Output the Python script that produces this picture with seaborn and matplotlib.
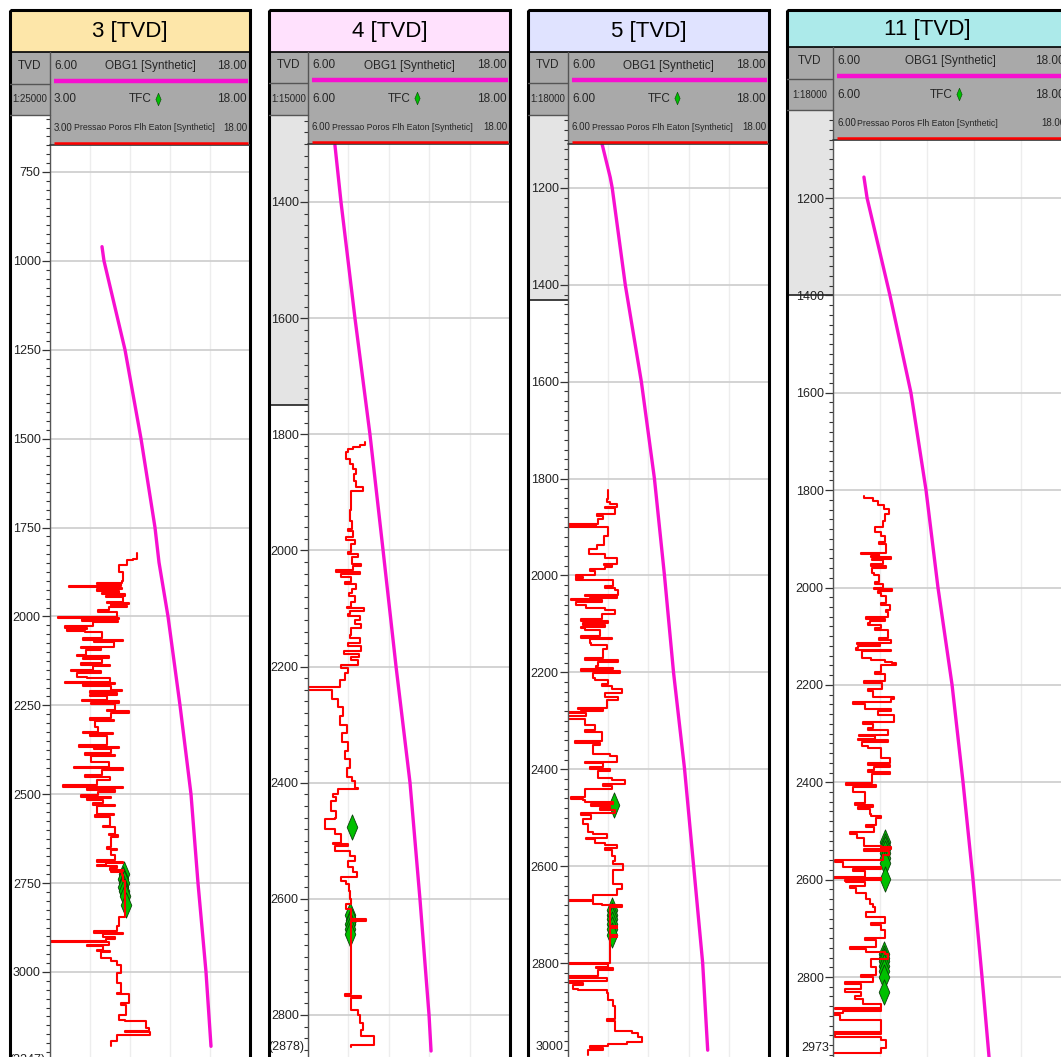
import numpy as np
import seaborn as sns
import matplotlib.pyplot as plt
from matplotlib.patches import Rectangle
from matplotlib.path import Path
from matplotlib.markers import MarkerStyle
from matplotlib.ticker import MultipleLocator

sns.set_theme(style="white")
plt.rcParams['font.family'] = ['Liberation Sans', 'DejaVu Sans']

W, H = 1061, 1057
MAG = '#F70FD0'
GREEN = '#00C000'
GRAY = '#A9A9A9'

# ---- well 3 ----
obg3_depth = [960, 1000, 1250, 1500, 1750, 1848, 2000, 2250, 2500, 2750, 3000, 3209]
obg3 = [9.12, 9.24, 10.5, 11.46, 12.3, 12.54, 13.08, 13.8, 14.46, 14.88, 15.36, 15.66]
tfc3_depth = [2725, 2738, 2750, 2760, 2772, 2785, 2812]
tfc3 = [8.55, 8.5, 8.55, 8.5, 8.55, 8.6, 8.7]
pp3_depth = [1821, 1838, 1840, 1854, 1876, 1901, 1905, 1909, 1913, 1916,
             1920, 1924, 1928, 1934, 1938, 1942, 1946, 1958, 1962, 1966,
             1970, 1974, 1983, 1988, 2002, 2005, 2008, 2012, 2016, 2028,
             2032, 2036, 2040, 2044, 2061, 2065, 2069, 2073, 2085, 2089,
             2093, 2108, 2112, 2116, 2120, 2132, 2136, 2140, 2150, 2154,
             2158, 2169, 2173, 2183, 2187, 2191, 2195, 2207, 2211, 2215,
             2220, 2224, 2235, 2239, 2243, 2247, 2263, 2267, 2271, 2287,
             2291, 2295, 2310, 2324, 2328, 2332, 2336, 2362, 2366, 2370,
             2374, 2385, 2389, 2393, 2409, 2423, 2427, 2431, 2447, 2451,
             2461, 2475, 2479, 2483, 2487, 2494, 2503, 2507, 2511, 2517,
             2526, 2530, 2534, 2555, 2559, 2563, 2588, 2592, 2611, 2615,
             2619, 2649, 2653, 2657, 2672, 2686, 2690, 2694, 2699, 2703,
             2708, 2712, 2716, 2720, 2727, 2745, 2844, 2872, 2886, 2890,
             2894, 2902, 2906, 2914, 2917, 2923, 2927, 2937, 2941, 2945,
             2961, 2970, 2979, 3003, 3031, 3059, 3063, 3087, 3092, 3120,
             3134, 3137, 3157, 3166, 3170, 3176, 3195]
pp3 = [9.5, 9.25, 8.75, 8.2, 8.5, 8.4, 6.5, 8.3, 4.4, 7.2,
       8.4, 6.5, 8.2, 6.9, 8.6, 7.2, 8.5, 7.3, 8.9, 7.6,
       8.8, 7.4, 6.6, 8.0, 3.6, 8.2, 5.4, 8.1, 6.2, 4.1,
       5.8, 4.3, 5.6, 6.9, 5.5, 8.5, 6.3, 7.8, 5.3, 6.8,
       5.7, 5.0, 7.4, 5.5, 6.9, 5.3, 7.5, 6.2, 4.6, 6.8,
       5.0, 5.8, 7.5, 4.1, 7.9, 5.5, 7.6, 8.4, 6.0, 8.0,
       6.0, 7.3, 5.4, 8.2, 6.1, 7.9, 7.3, 8.9, 7.6, 6.0,
       7.8, 6.4, 6.6, 5.5, 7.7, 6.0, 7.3, 5.2, 8.2, 6.3,
       7.6, 5.6, 7.9, 6.1, 7.4, 4.8, 8.5, 6.9, 5.6, 7.5,
       6.5, 4.0, 8.5, 5.8, 7.9, 6.6, 5.3, 7.6, 5.8, 7.0,
       6.2, 7.9, 6.5, 7.8, 6.4, 7.5, 7.0, 7.9, 7.4, 8.1,
       7.6, 7.3, 8.0, 7.6, 7.9, 6.5, 8.5, 7.2, 6.5, 8.0,
       7.5, 8.5, 7.6, 8.4, 8.5, 8.6, 8.2, 8.0, 6.3, 8.5,
       7.0, 7.9, 7.2, 3.0, 7.4, 5.8, 7.0, 6.5, 7.5, 6.8,
       7.6, 8.0, 8.3, 8.0, 8.3, 8.0, 8.9, 8.3, 8.7, 8.2,
       8.6, 10.2, 10.4, 8.6, 10.5, 8.0, 7.6]
pp3_end = 3209

# ---- well 4 ----
obg4_depth = [1302, 1400, 1600, 1800, 2000, 2200, 2400, 2600, 2800, 2862]
obg4 = [7.60, 7.96, 8.79, 9.68, 10.46, 11.23, 12.06, 12.65, 13.19, 13.31]
tfc4_depth = [2477, 2628, 2636, 2644, 2652, 2660]
tfc4 = [8.61, 8.5, 8.55, 8.5, 8.52, 8.5]
pp4_depth = [1814, 1818, 1822, 1826, 1831, 1843, 1851, 1860, 1869, 1880,
             1891, 1897, 1931, 1949, 1963, 1967, 1977, 1982, 1989, 2003,
             2007, 2011, 2023, 2027, 2034, 2037, 2040, 2046, 2054, 2058,
             2066, 2074, 2079, 2089, 2097, 2100, 2104, 2109, 2113, 2120,
             2126, 2134, 2146, 2150, 2160, 2164, 2174, 2178, 2183, 2189,
             2197, 2203, 2211, 2223, 2236, 2240, 2255, 2270, 2285, 2300,
             2315, 2330, 2345, 2360, 2375, 2390, 2397, 2409, 2411, 2420,
             2424, 2431, 2449, 2460, 2463, 2480, 2489, 2503, 2506, 2509,
             2517, 2526, 2534, 2546, 2554, 2563, 2569, 2574, 2586, 2600,
             2609, 2617, 2634, 2638, 2763, 2767, 2771, 2791, 2800, 2814,
             2826, 2837, 2851]
pp4 = [9.41, 9.07, 8.68, 8.38, 8.28, 8.48, 8.68, 8.88, 8.74, 8.88,
       9.29, 8.54, 8.48, 8.62, 8.38, 8.68, 8.28, 8.78, 8.54, 8.38,
       8.97, 8.62, 9.13, 8.68, 7.69, 9.07, 7.98, 8.58, 8.22, 8.88,
       8.62, 8.42, 8.82, 8.54, 8.34, 9.31, 8.48, 8.38, 9.07, 8.78,
       9.17, 8.54, 8.48, 9.07, 8.38, 9.17, 8.14, 9.01, 8.58, 8.97,
       7.94, 8.38, 8.18, 7.9, 6.0, 7.4, 7.8, 8.1, 7.9, 8.3,
       8.0, 8.4, 8.2, 8.5, 8.3, 8.6, 8.78, 8.97, 7.79, 7.49,
       7.69, 7.39, 7.69, 7.59, 6.99, 7.59, 7.94, 7.49, 8.38, 7.59,
       8.48, 8.78, 8.38, 8.68, 8.93, 7.98, 8.28, 8.42, 8.48, 8.58,
       8.28, 8.54, 9.47, 8.54, 8.22, 9.17, 8.54, 8.97, 9.07, 9.27,
       9.17, 9.93, 8.54]
pp4_end = 2855

# ---- well 5 ----
obg5_depth = [1110, 1178, 1200, 1400, 1600, 1800, 2000, 2200, 2400, 2600, 2800, 2980]
obg5 = [8.04, 8.52, 8.64, 9.42, 10.38, 11.16, 11.76, 12.3, 12.96, 13.5, 14.04, 14.34]
tfc5_depth = [2474, 2690, 2700, 2710, 2720, 2730, 2742]
tfc5 = [8.72, 8.65, 8.6, 8.65, 8.6, 8.65, 8.6]
pp5_depth = [1823, 1842, 1848, 1853, 1858, 1861, 1873, 1877, 1884, 1893,
             1895, 1897, 1899, 1918, 1937, 1945, 1956, 1964, 1976, 1979,
             1982, 1987, 1991, 2000, 2003, 2006, 2010, 2021, 2025, 2029,
             2040, 2043, 2046, 2048, 2051, 2055, 2060, 2067, 2072, 2079,
             2090, 2094, 2098, 2102, 2106, 2109, 2113, 2124, 2128, 2132,
             2140, 2144, 2151, 2170, 2174, 2178, 2186, 2190, 2193, 2197,
             2201, 2212, 2216, 2224, 2228, 2235, 2243, 2250, 2258, 2273,
             2276, 2279, 2281, 2284, 2290, 2296, 2308, 2319, 2323, 2342,
             2345, 2350, 2369, 2373, 2384, 2388, 2395, 2399, 2403, 2418,
             2422, 2430, 2434, 2441, 2457, 2461, 2464, 2468, 2472, 2476,
             2480, 2484, 2491, 2495, 2502, 2514, 2529, 2533, 2541, 2545,
             2552, 2556, 2563, 2567, 2579, 2590, 2595, 2609, 2624, 2636,
             2647, 2659, 2669, 2672, 2678, 2681, 2685, 2689, 2724, 2727,
             2743, 2746, 2800, 2803, 2808, 2811, 2814, 2827, 2830, 2838,
             2841, 2845, 2853, 2856, 2861, 2876, 2888, 2915, 2919, 2926,
             2941, 2945, 2953, 2964, 2968, 2972, 2976, 2980]
pp5 = [8.41, 8.31, 8.51, 8.95, 8.21, 8.81, 7.72, 8.1, 7.82, 6.0,
       7.7, 6.0, 8.41, 8.12, 7.72, 7.23, 8.21, 8.95, 8.12, 8.6,
       8.2, 7.3, 7.6, 6.5, 6.9, 6.5, 8.71, 8.2, 8.8, 9.0,
       7.0, 8.9, 7.3, 6.2, 8.0, 6.5, 7.1, 8.2, 8.8, 8.05,
       6.75, 8.4, 6.9, 8.2, 6.8, 7.0, 7.9, 6.75, 8.6, 7.3,
       7.4, 8.3, 8.1, 7.0, 9.0, 7.8, 7.7, 8.7, 6.8, 9.1,
       7.5, 7.6, 8.4, 8.0, 8.6, 9.2, 8.2, 9.0, 8.3, 6.6,
       8.1, 6.8, 6.0, 7.1, 6.0, 7.0, 7.6, 7.0, 8.0, 6.4,
       7.9, 7.5, 8.5, 8.9, 7.0, 8.1, 7.3, 8.5, 7.8, 8.6,
       9.4, 8.1, 8.6, 7.0, 6.2, 6.9, 7.0, 8.7, 7.4, 8.5,
       7.9, 8.8, 6.8, 7.4, 6.9, 7.2, 7.5, 8.3, 7.1, 7.6,
       8.2, 8.9, 8.2, 8.6, 8.8, 8.7, 9.3, 8.7, 8.7, 9.2,
       8.9, 7.5, 6.0, 7.5, 8.0, 9.2, 8.5, 8.51, 8.95, 8.51,
       8.9, 8.51, 6.0, 8.4, 7.7, 8.7, 7.8, 6.0, 8.3, 6.0,
       6.9, 6.3, 6.6, 8.3, 8.41, 8.71, 8.8, 8.3, 8.81, 8.81,
       9.8, 10.2, 10.4, 9.5, 8.4, 7.3, 8.1, 7.2]
pp5_end = 2990

# ---- well 11 ----
obg11_depth = [1157, 1200, 1400, 1600, 1800, 2000, 2200, 2400, 2600, 2800, 2965]
obg11 = [7.58, 7.74, 8.91, 9.98, 10.75, 11.36, 12.08, 12.64, 13.15, 13.61, 13.97]
tfc11_depth = [2522, 2530, 2538, 2546, 2556, 2566, 2598,
               2752, 2760, 2768, 2778, 2788, 2800, 2830]
tfc11 = [8.63, 8.65, 8.63, 8.65, 8.63, 8.63, 8.63,
         8.6, 8.62, 8.6, 8.62, 8.6, 8.6, 8.6]
pp11_depth = [1813, 1817, 1823, 1830, 1838, 1849, 1864, 1876, 1887, 1895,
              1906, 1910, 1917, 1929, 1932, 1935, 1938, 1941, 1944, 1951,
              1955, 1960, 1970, 1975, 1989, 1993, 2000, 2003, 2007, 2012,
              2017, 2031, 2035, 2046, 2050, 2061, 2065, 2069, 2072, 2076,
              2084, 2088, 2103, 2107, 2114, 2117, 2120, 2125, 2128, 2131,
              2144, 2148, 2152, 2156, 2159, 2174, 2178, 2193, 2197, 2208,
              2212, 2224, 2228, 2235, 2239, 2246, 2250, 2254, 2261, 2277,
              2281, 2288, 2292, 2303, 2306, 2311, 2314, 2317, 2326, 2330,
              2345, 2350, 2360, 2364, 2368, 2375, 2379, 2383, 2386, 2401,
              2405, 2409, 2416, 2420, 2443, 2446, 2450, 2454, 2466, 2470,
              2473, 2488, 2492, 2503, 2507, 2515, 2530, 2533, 2537, 2541,
              2549, 2560, 2564, 2572, 2575, 2578, 2583, 2594, 2597, 2600,
              2602, 2605, 2613, 2617, 2628, 2640, 2651, 2657, 2666, 2677,
              2689, 2694, 2704, 2719, 2725, 2738, 2742, 2749, 2753, 2764,
              2779, 2795, 2800, 2810, 2815, 2825, 2830, 2840, 2845, 2855,
              2863, 2866, 2869, 2874, 2878, 2889, 2912, 2915, 2918, 2923,
              2930, 2946, 2957]
pp11 = [7.56, 8.04, 8.3, 8.6, 8.88, 8.63, 8.54, 8.12, 8.46, 8.63,
        8.37, 8.71, 8.71, 7.41, 8.37, 7.95, 8.97, 8.0, 8.54, 7.92,
        8.71, 8.0, 8.09, 8.37, 8.12, 8.54, 8.09, 9.0, 8.3, 8.46,
        8.71, 8.43, 8.93, 8.71, 8.8, 7.7, 8.63, 7.9, 7.78, 8.46,
        8.12, 8.8, 8.37, 8.97, 7.24, 8.4, 7.3, 7.19, 8.97, 7.5,
        7.92, 8.63, 9.0, 9.22, 8.46, 8.12, 8.63, 7.58, 8.49, 7.78,
        8.04, 9.1, 8.97, 7.02, 7.61, 7.61, 8.97, 8.3, 9.14, 7.53,
        8.04, 7.78, 8.8, 7.31, 8.12, 7.27, 8.83, 7.5, 7.78, 8.46,
        8.46, 8.93, 7.78, 8.9, 8.1, 7.78, 8.9, 8.0, 7.98, 6.68,
        8.2, 7.0, 7.02, 7.61, 7.1, 8.04, 7.3, 7.87, 7.95, 8.46,
        8.2, 7.7, 8.09, 6.85, 7.24, 7.58, 8.46, 8.97, 7.58, 8.88,
        8.54, 6.08, 6.51, 6.51, 8.46, 7.0, 7.61, 6.0, 8.46, 6.6,
        6.68, 7.61, 6.85, 7.19, 7.7, 7.87, 8.04, 8.12, 7.7, 8.63,
        7.92, 8.43, 8.63, 7.61, 8.2, 6.85, 7.7, 8.63, 8.8, 7.92,
        8.2, 7.44, 8.04, 6.59, 7.44, 6.59, 7.44, 7.1, 7.53, 8.46,
        6.08, 8.46, 6.5, 6.0, 6.34, 8.46, 6.0, 8.46, 6.1, 8.46,
        8.71, 8.46, 6.0]
pp11_end = 2962

titles = ['3 [TVD]', '4 [TVD]', '5 [TVD]', '11 [TVD]']
scales = ['1:25000', '1:15000', '1:18000', '1:18000']
bands = ['#FDE6A9', '#FFE1FD', '#E0E3FF', '#ACEAEA']
pp_min = [3.0, 6.0, 6.0, 6.0]
bottom_labels = ['(3247)', '(2878)', '3000', '2973']

panels = [
    dict(x=(10, 50, 250), rows=(52, 84, 115, 145), ref=((172, 750), (972, 3000)),
         major=(750, 3000, 250), minor=25, shade=None, boff=0,
         obg=(obg3_depth, obg3), tfc=(tfc3_depth, tfc3), pp=(pp3_depth, pp3, pp3_end)),
    dict(x=(269, 308, 510), rows=(52, 83, 115, 144), ref=((202, 1400), (1015, 2800)),
         major=(1400, 2800, 200), minor=20, shade=1749, boff=9,
         obg=(obg4_depth, obg4), tfc=(tfc4_depth, tfc4), pp=(pp4_depth, pp4, pp4_end)),
    dict(x=(528, 568, 769), rows=(52, 83, 115, 144), ref=((188, 1200), (963, 2800)),
         major=(1200, 2800, 200), minor=20, shade=1431, boff=9,
         obg=(obg5_depth, obg5), tfc=(tfc5_depth, tfc5), pp=(pp5_depth, pp5, pp5_end)),
    dict(x=(787, 833, 1068), rows=(47, 79, 110, 140), ref=((198, 1200), (977, 2800)),
         major=(1200, 2800, 200), minor=20, shade=1400, boff=9,
         obg=(obg11_depth, obg11), tfc=(tfc11_depth, tfc11), pp=(pp11_depth, pp11, pp11_end)),
]

DIAMOND = MarkerStyle(Path([(0, 1), (0.42, 0), (0, -1), (-0.42, 0), (0, 1)], closed=True))
BOT = 1060


def box(x0, y0, x1, y1):
    return [x0 / W, 1 - y1 / H, (x1 - x0) / W, (y1 - y0) / H]


def steps(depth, value, end):
    y = np.repeat(np.append(depth, end), 2)[1:-1]
    x = np.repeat(value, 2)
    return x, y


fig = plt.figure(figsize=(W / 100, H / 100), dpi=100)
fig.patch.set_facecolor('white')

for i, p in enumerate(panels):
    L, D, R = p['x']
    tb, r1, r2, hb = p['rows']
    (ya, da), (yb, db) = p['ref']
    k = (yb - ya) / (db - da)
    top = da + (r2 - ya) / k
    bot = da + (BOT - ya) / k

    # depth column background
    axd = fig.add_axes(box(L, r2, D, BOT))
    axd.set_xlim(0, 1)
    axd.set_ylim(bot, top)
    axd.axis('off')
    if p['shade']:
        axd.axhspan(top, p['shade'], color='#E4E4E4', lw=0)
        axd.axhline(p['shade'], color='#303030', lw=1.3)

    # track
    ax = fig.add_axes(box(D, r2, R, BOT))
    ax.set_xlim(6, 18)
    ax.set_ylim(bot, top)
    ax.set_xticks(np.linspace(6, 18, 6))
    m0, m1, ms = p['major']
    ax.set_yticks(np.arange(m0, m1 + 1, ms))
    ax.yaxis.set_minor_locator(MultipleLocator(p['minor']))
    ax.xaxis.grid(True, color='#EDEDED', lw=1)
    ax.yaxis.grid(True, which='major', color='#D0D0D0', lw=1.3)
    ax.tick_params(axis='x', length=0, labelbottom=False)
    ax.tick_params(axis='y', which='major', left=True, direction='out', length=5.5,
                   width=0.9, color='#333333', labelsize=9, pad=1.2,
                   labelcolor='#222222')
    ax.tick_params(axis='y', which='minor', left=True, direction='out', length=2.6,
                   width=0.8, color='#333333')
    for s in ax.spines.values():
        s.set_visible(False)
    ax.annotate(bottom_labels[i], xy=(0, bot), xycoords=('axes fraction', 'data'),
                xytext=(-3, p['boff']), textcoords='offset points',
                ha='right', va='center', fontsize=9, color='#222222')

    od, ov = p['obg']
    sns.lineplot(x=ov, y=od, ax=ax, color=MAG, linewidth=2.4, sort=False,
                 estimator=None, zorder=3)

    axp = ax.twiny()
    axp.set_xlim(pp_min[i], 18)
    axp.set_ylim(bot, top)
    td, tv = p['tfc']
    sns.scatterplot(x=tv, y=td, ax=axp, marker=DIAMOND, s=330, color=GREEN,
                    edgecolor='#0B400B', linewidth=0.6, zorder=4)
    pd_, pv, pend = p['pp']
    px_, py_ = steps(pd_, pv, pend)
    sns.lineplot(x=px_, y=py_, ax=axp, color='#FF0000', linewidth=1.5, sort=False,
                 estimator=None, zorder=5)
    axp.set_ylim(bot, top)
    axp.axis('off')

    # header / frame
    axf = fig.add_axes(box(L, 10, R, BOT))
    axf.set_xlim(L, R)
    axf.set_ylim(BOT, 10)
    axf.axis('off')
    axf.add_patch(Rectangle((L, 10), R - L, tb - 10, fc=bands[i], ec='none'))
    axf.add_patch(Rectangle((L, tb), R - L, r2 - tb, fc=GRAY, ec='none'))
    axf.add_patch(Rectangle((D, r2), R - D, hb - r2, fc=GRAY, ec='none'))
    axf.plot([L, R], [tb, tb], color='black', lw=1.2)
    axf.plot([L, D], [r1, r1], color='#555555', lw=1)
    axf.plot([L, D], [r2, r2], color='#555555', lw=1)
    axf.plot([D, D], [tb, BOT], color='#555555', lw=1)
    axf.plot([D, R], [hb, hb], color='#333333', lw=1.2)
    axf.plot([D + 4, R - 2], [r1 - 3, r1 - 3], color=MAG, lw=3.2, solid_capstyle='butt')
    axf.plot([D + 4, R - 2], [hb - 2, hb - 2], color='#FF0000', lw=1.8, solid_capstyle='butt')
    axf.add_patch(Rectangle((L, 10), R - L, BOT, fill=False, ec='black', lw=2.2, clip_on=False))

    axf.text((L + R) / 2, (10 + tb) / 2 + 1, titles[i], fontsize=16,
             ha='center', va='center', color='black')
    fs = 8.5
    c1 = (tb + r1) / 2 - 2
    c2 = (r1 + r2) / 2
    c3 = (r2 + hb) / 2 - 2
    axf.text((L + D) / 2, c1, 'TVD', fontsize=fs, ha='center', va='center')
    axf.text((L + D) / 2, c2, scales[i], fontsize=7, ha='center', va='center')
    left_txt = '%.2f' % pp_min[i]
    axf.text(D + 4, c1, '6.00', fontsize=fs, ha='left', va='center')
    axf.text((D + R) / 2, c1, 'OBG1 [Synthetic]', fontsize=fs, ha='center', va='center')
    axf.text(R - 3, c1, '18.00', fontsize=fs, ha='right', va='center')
    axf.text(D + 4, c2, left_txt, fontsize=fs, ha='left', va='center')
    axf.text((D + R) / 2 + 2, c2, 'TFC', fontsize=fs, ha='right', va='center')
    axf.plot([(D + R) / 2 + 8], [c2 - 1], marker=DIAMOND, ms=9, color=GREEN,
             markeredgecolor='#0B400B', markeredgewidth=0.4)
    axf.text(R - 3, c2, '18.00', fontsize=fs, ha='right', va='center')
    axf.text(D + 4, c3, left_txt, fontsize=7, ha='left', va='center')
    axf.text(D + 24, c3, 'Pressao Poros Flh Eaton [Synthetic]', fontsize=6.3,
             ha='left', va='center')
    axf.text(R - 3, c3, '18.00', fontsize=7, ha='right', va='center')

fig.savefig('out.png', dpi=100, facecolor='white')
